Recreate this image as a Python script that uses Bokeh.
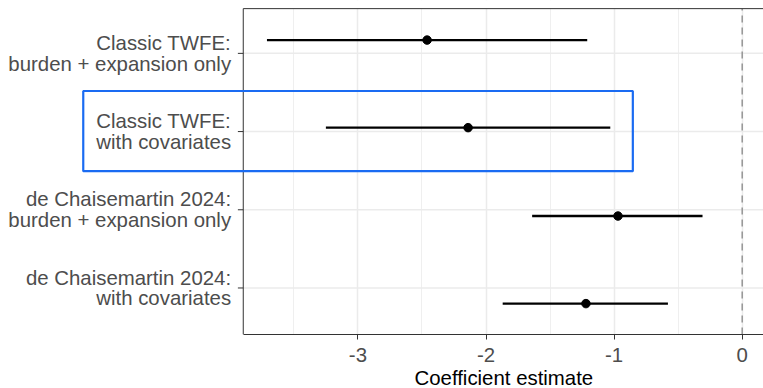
from bokeh.plotting import figure
from bokeh.models import (ColumnDataSource, FixedTicker, BoxAnnotation, Range1d, Title)
from bokeh.core.properties import value
from bokeh.embed import file_html
from bokeh.resources import INLINE

# ---- data ----
models = ["Classic TWFE:\nburden + expansion only",
          "Classic TWFE:\nwith covariates",
          "de Chaisemartin 2024:\nburden + expansion only",
          "de Chaisemartin 2024:\nwith covariates"]
tick_pos = [4, 3, 2, 1]             # category positions on the axis
est_pos = [4.17, 3.05, 1.92, 0.80]  # vertical positions of the estimates
estimate = [-2.46, -2.14, -0.97, -1.22]
ci_low = [-3.71, -3.25, -1.64, -1.87]
ci_high = [-1.21, -1.03, -0.31, -0.58]
x_ticks = [-3, -2, -1, 0]
x_minor = [-3.5, -2.5, -1.5, -0.5]
x_title = "Coefficient estimate"
highlight_x = (-5.144, -0.854)   # highlighted model row (box around label + estimate)
highlight_y = (2.494, 3.519)

# ---- layout constants (data units) ----
X0, X1 = -5.79, 0.166         # full canvas width
PANEL_L = -3.895              # left edge of the panel
Y0, Y1 = 0.405, 4.676         # frame
PANEL_T = 4.572               # top edge of the panel
LABEL_X = -3.99
TICK_L = 0.042

FONT = "Liberation Sans"
GRID = "#EBEBEB"
DARK = "#333333"

src = ColumnDataSource(dict(y=est_pos, est=estimate, lo=ci_low, hi=ci_high))
cats = ColumnDataSource(dict(y=tick_pos, name=models))

p = figure(width=763, height=388, output_backend="svg", toolbar_location=None,
           x_range=Range1d(X0, X1), y_range=Range1d(Y0, Y1),
           min_border_left=0, min_border_right=0, min_border_top=0, min_border_bottom=52)
p.outline_line_color = None
p.background_fill_color = "white"
p.border_fill_color = "white"
p.yaxis.visible = False
p.ygrid.visible = False

# vertical grid (major + minor)
p.xaxis.ticker = FixedTicker(ticks=x_ticks, minor_ticks=x_minor)
p.xgrid.grid_line_color = GRID
p.xgrid.grid_line_width = 1.5
p.xgrid.minor_grid_line_color = GRID
p.xgrid.minor_grid_line_width = 0.8

# keep the strip above the panel white
p.quad(left=X0, right=X1, bottom=PANEL_T, top=Y1, fill_color="white", line_color=None)

# horizontal grid at category positions
p.segment(x0=PANEL_L, x1=X1, y0="y", y1="y", source=cats, line_color=GRID, line_width=1.5)

# zero reference line
p.segment(x0=0, x1=0, y0=Y0, y1=PANEL_T, line_color="#999999", line_width=1.6,
          line_dash="7 5")

# CIs and points
p.segment(x0="lo", x1="hi", y0="y", y1="y", source=src, line_color="black", line_width=2.3)
p.scatter(x="est", y="y", source=src, size=8.5, fill_color="black", line_color="black")

# panel border (top, left)
p.segment(x0=PANEL_L, x1=X1, y0=PANEL_T, y1=PANEL_T, line_color=DARK, line_width=1)
p.segment(x0=PANEL_L, x1=PANEL_L, y0=Y0, y1=PANEL_T, line_color=DARK, line_width=1)

# y axis ticks and labels
p.segment(x0=PANEL_L - TICK_L, x1=PANEL_L, y0="y", y1="y", source=cats,
          line_color=DARK, line_width=1)
p.text(x=LABEL_X, y="y", text="name", source=cats, text_align="right",
       text_baseline="middle", text_font=value(FONT), text_font_size="20.4px",
       text_color="#4D4D4D", text_line_height=0.95)

# highlight box
p.add_layout(BoxAnnotation(left=highlight_x[0], right=highlight_x[1],
                           bottom=highlight_y[0], top=highlight_y[1],
                           fill_color=None, fill_alpha=0, line_color="#1A6BF2",
                           line_alpha=1, line_width=2.2))

# x axis
ax = p.xaxis[0]
ax.bounds = (PANEL_L, X1)
ax.axis_line_color = DARK
ax.axis_line_width = 1
ax.major_tick_line_color = DARK
ax.major_tick_out = 5
ax.major_tick_in = 0
ax.minor_tick_line_color = None
ax.major_label_text_font = FONT
ax.major_label_text_font_size = "20.4px"
ax.major_label_text_color = "#4D4D4D"
ax.major_label_overrides = {t: str(t) for t in x_ticks}
ax.major_label_standoff = 8

# x axis title, centred under the panel
p.add_layout(Title(text=x_title, align="left", offset=414, standoff=0,
                   text_font=FONT, text_font_size="20.4px", text_font_style="normal",
                   text_color="black"), "below")

open("out.html", "w").write(file_html(p, INLINE))
